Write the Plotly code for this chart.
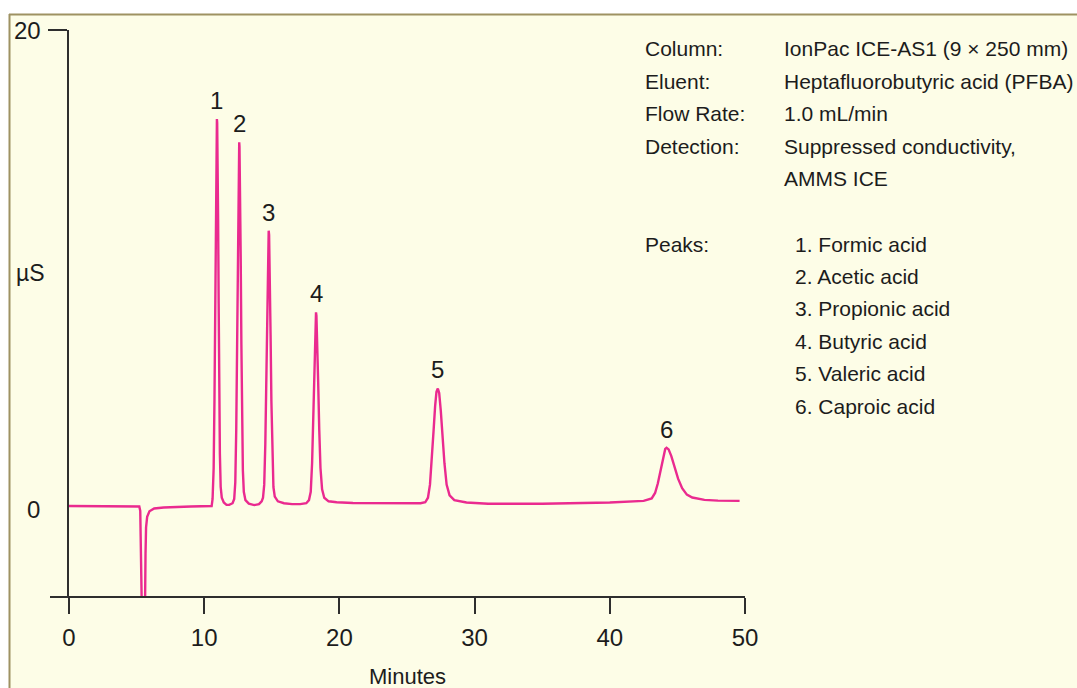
import plotly.graph_objects as go

# Chromatogram trace: retention time (min) and conductivity (µS)
time_min = [
    0.0, 4.9, 5.2, 5.27, 5.32, 5.38, 5.49, 5.6, 5.63, 5.66, 5.70, 5.78, 5.95, 6.3, 7.0, 9.0, 10.4,
    10.55, 10.62, 10.70, 10.76, 10.81, 10.85, 10.89, 10.92, 10.94, 10.96, 10.99, 11.03, 11.07,
    11.11, 11.16, 11.22, 11.30, 11.45, 11.65, 11.85, 12.0,
    12.10, 12.22, 12.30, 12.37, 12.43, 12.48, 12.53, 12.57, 12.59, 12.61, 12.65, 12.70, 12.75,
    12.80, 12.86, 12.93, 13.05, 13.30, 13.70, 14.05, 14.25,
    14.35, 14.44, 14.52, 14.58, 14.64, 14.70, 14.74, 14.77, 14.80, 14.85, 14.91, 14.97, 15.04,
    15.12, 15.22, 15.45, 15.9, 16.5, 17.1, 17.55, 17.75,
    17.88, 17.98, 18.06, 18.13, 18.19, 18.24, 18.27, 18.30, 18.36, 18.43, 18.51, 18.60, 18.72,
    18.88, 19.2, 19.8, 21.0, 24.0, 26.0, 26.35,
    26.55, 26.70, 26.85, 26.97, 27.08, 27.18, 27.28, 27.38, 27.50, 27.63, 27.77, 27.93, 28.15,
    28.5, 29.4, 31.0, 35.0, 40.0, 42.5, 43.1,
    43.35, 43.55, 43.75, 43.95, 44.1, 44.2, 44.35, 44.55, 44.8, 45.05, 45.35, 45.7, 46.1,
    47.0, 48.0, 49.6,
]
conductivity_uS = [
    0.0, 0.0, -0.02, -0.2, -1.5, -3.9, -8.0, -4.2, -3.82, -2.0, -0.9, -0.45, -0.22, -0.1, -0.06, -0.02, 0.0,
    0.0, 0.3, 1.6, 4.5, 8.5, 12.0, 15.0, 16.1, 16.26, 16.1, 15.0, 12.0, 8.5,
    5.0, 2.2, 0.8, 0.35, 0.15, 0.05, 0.05, 0.1,
    0.12, 0.3, 1.0, 3.2, 6.8, 10.5, 13.8, 15.1, 15.28, 15.1, 13.8, 10.5, 6.8,
    3.6, 1.5, 0.6, 0.25, 0.1, 0.04, 0.08, 0.2,
    0.35, 0.9, 2.6, 5.0, 7.8, 10.4, 11.4, 11.57, 11.4, 10.0, 7.2, 4.4, 2.0,
    0.8, 0.4, 0.2, 0.12, 0.08, 0.08, 0.12, 0.25,
    0.6, 1.8, 3.6, 5.6, 7.2, 8.0, 8.14, 8.0, 7.0, 5.2, 3.2, 1.6, 0.7,
    0.35, 0.2, 0.16, 0.13, 0.12, 0.12, 0.16,
    0.35, 0.9, 2.0, 3.2, 4.2, 4.8, 4.94, 4.75, 4.0, 2.9, 1.8, 0.9, 0.45,
    0.25, 0.15, 0.1, 0.1, 0.15, 0.22, 0.32,
    0.55, 0.95, 1.5, 2.1, 2.4, 2.45, 2.38, 2.1, 1.65, 1.15, 0.75, 0.48, 0.36,
    0.26, 0.23, 0.22,
]

# Peak apexes (retention time, height) with their numbers
peak_numbers = ["1", "2", "3", "4", "5", "6"]
peak_times = [10.94, 12.59, 14.77, 18.27, 27.28, 44.2]
peak_heights = [16.26, 15.28, 11.57, 8.14, 4.94, 2.45]

x_ticks = [0, 10, 20, 30, 40, 50]
x_tick_text = ["0", "10", "20", "30", "40", "50"]

cond_labels = ["Column:", "Eluent:", "Flow Rate:", "Detection:", "Peaks:"]
cond_values = ["IonPac ICE-AS1 (9 × 250 mm)", "Heptafluorobutyric acid (PFBA)",
               "1.0 mL/min", "Suppressed conductivity,", "AMMS ICE"]
peak_names = ["1. Formic acid", "2. Acetic acid", "3. Propionic acid",
              "4. Butyric acid", "5. Valeric acid", "6. Caproic acid"]

W, H = 1077, 688
ML, MR, MT, MB = 69, 332, 30, 91
PW, PH = W - ML - MR, H - MT - MB

FONT = "Liberation Sans, Arial, sans-serif"
INK = "#1c1c1c"
AXIS = "#2e2e2e"
TRACE = "#ea2a8f"
PANEL = "#fdfde7"
BORDER = "#9e9262"


def px(xp):
    return (xp - ML) / PW


def py(yp):
    return (H - MB - yp) / PH


def text_note(text, xp, yp, size=21, xanchor="left"):
    return dict(x=px(xp), y=py(yp), xref="paper", yref="paper", text=text, showarrow=False,
                xanchor=xanchor, yanchor="middle", font=dict(size=size, color=INK, family=FONT))


fig = go.Figure()
fig.add_trace(go.Scatter(
    x=time_min, y=conductivity_uS, mode="lines",
    line=dict(color=TRACE, width=2.4), hoverinfo="skip", showlegend=False,
))

annotations = []
for n, t, h in zip(peak_numbers, peak_times, peak_heights):
    annotations.append(dict(x=t, y=h, xref="x", yref="y", text=n, showarrow=False,
                            yanchor="bottom", yshift=3, font=dict(size=24, color=INK, family=FONT)))

# y-axis labels and axis titles
annotations += [
    dict(x=px(43), y=20, xref="paper", yref="y", text="20", showarrow=False, xanchor="right",
         yanchor="middle", font=dict(size=24, color=INK, family=FONT)),
    dict(x=px(42), y=-0.15, xref="paper", yref="y", text="0", showarrow=False, xanchor="right",
         yanchor="middle", font=dict(size=24, color=INK, family=FONT)),
    text_note("µS", 30, 273, size=23, xanchor="center"),
    text_note("Minutes", 408, 676, size=22, xanchor="center"),
]

row_y = [48, 81, 113, 146, 178]
for lab, yy in zip(cond_labels[:4], row_y[:4]):
    annotations.append(text_note(lab, 643, yy))
for val, yy in zip(cond_values, row_y):
    annotations.append(text_note(val, 782, yy))
annotations.append(text_note(cond_labels[4], 643, 244))
list_y = [244, 276, 308, 341, 373, 406]
for name, yy in zip(peak_names, list_y):
    annotations.append(text_note(name, 793, yy))

shapes = [
    # white margin strips outside the framed panel
    dict(type="rect", xref="paper", yref="paper", x0=px(-5), x1=px(W + 5), y0=py(14), y1=py(-5),
         fillcolor="white", line=dict(width=0), layer="below"),
    dict(type="rect", xref="paper", yref="paper", x0=px(-5), x1=px(9), y0=py(H + 5), y1=py(-5),
         fillcolor="white", line=dict(width=0), layer="below"),
    # panel frame (top and left edges)
    dict(type="line", xref="paper", yref="paper", x0=px(9), x1=px(W + 5), y0=py(14.5), y1=py(14.5),
         line=dict(color=BORDER, width=2)),
    dict(type="line", xref="paper", yref="paper", x0=px(9.5), x1=px(9.5), y0=py(14), y1=py(H + 5),
         line=dict(color=BORDER, width=2)),
    # x-axis baseline extending slightly left of the y-axis
    dict(type="line", xref="paper", yref="paper", x0=px(50), x1=1, y0=0, y1=0,
         line=dict(color=AXIS, width=2)),
]

fig.update_layout(
    width=W, height=H,
    margin=dict(l=ML, r=MR, t=MT, b=MB, pad=0),
    paper_bgcolor=PANEL, plot_bgcolor="rgba(0,0,0,0)",
    showlegend=False,
    annotations=annotations, shapes=shapes,
    xaxis=dict(range=[0, 50], tickvals=x_ticks, ticktext=x_tick_text, ticks="outside",
               ticklen=16, tickwidth=2, tickcolor=AXIS, showline=False, showgrid=False,
               zeroline=False, tickfont=dict(size=24, color=INK, family=FONT),
               ticklabelstandoff=3, fixedrange=True),
    yaxis=dict(range=[-3.82, 20], tickvals=[20], ticktext=[""], ticks="outside", ticklen=19,
               tickwidth=2, tickcolor=AXIS, showline=True, linecolor=AXIS, linewidth=2,
               showgrid=False, zeroline=False, fixedrange=True),
)

fig.write_html("out.html")
